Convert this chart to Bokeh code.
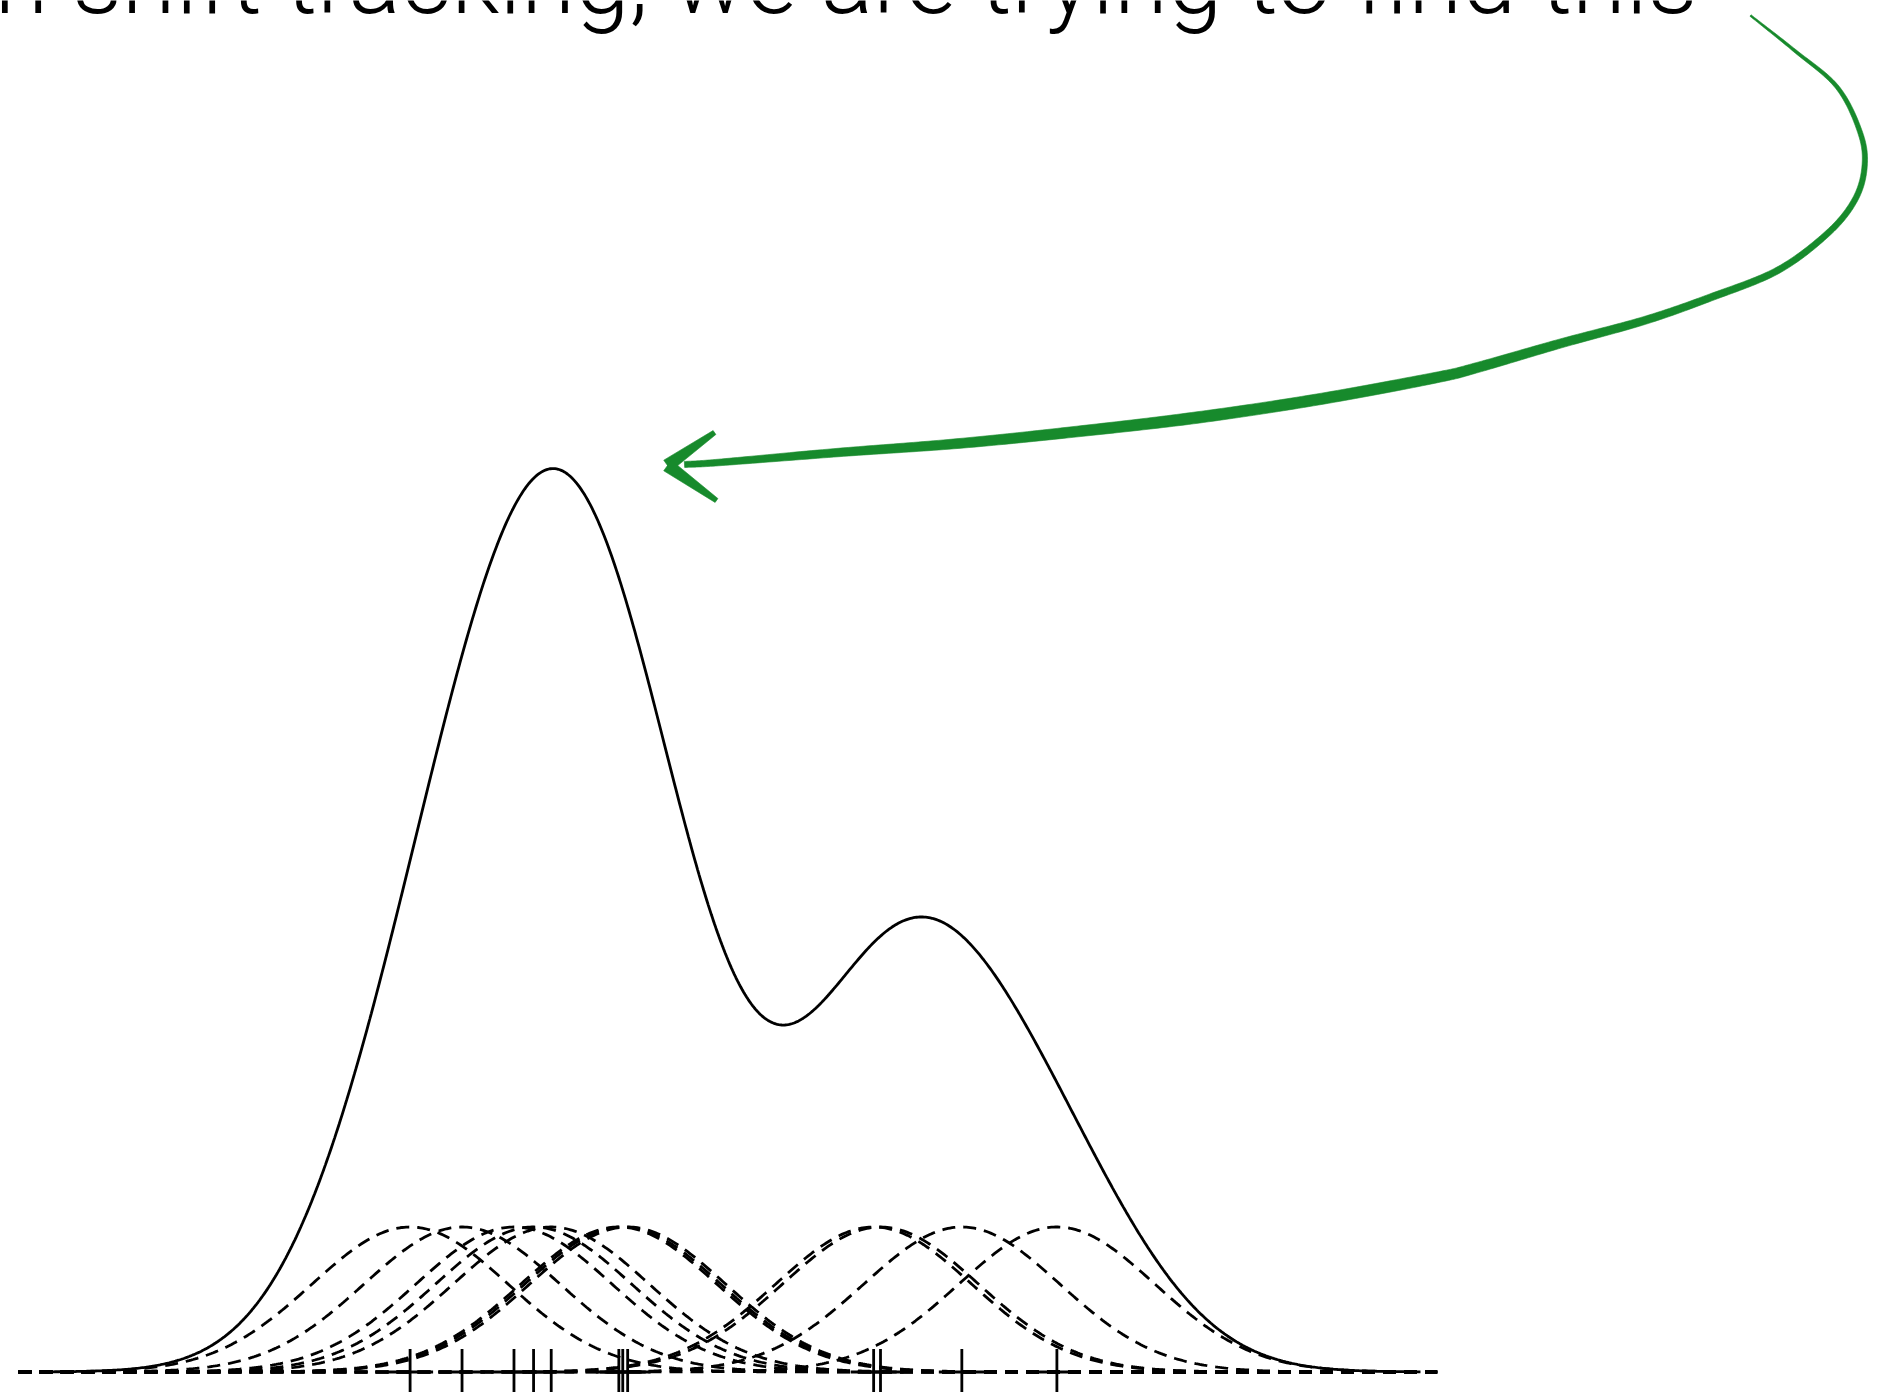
import numpy as np
from bokeh.plotting import figure
from bokeh.models import Range1d
from bokeh.core.properties import value
from bokeh.embed import file_html
from bokeh.resources import INLINE

observations = [-3.30, -2.77, -2.24, -2.04, -1.86, -1.17, -1.13, -1.08, 1.43, 1.50, 2.33, 3.30]
bandwidth = 1.0
caption = "In mean shift tracking, we are trying to find this"

# ---- annotation arrow centre line (page pixels) ----
arrow_x = [1750, 1794, 1837, 1860, 1864, 1854, 1827, 1777, 1710, 1644, 1560, 1477,
           1436, 1317, 1197, 1077, 958, 838, 718, 684]
arrow_y = [15, 50, 87, 133, 167, 200, 233, 270, 297, 320, 343, 367,
           377, 399, 417, 431, 443, 452, 462, 464]
arrow_tip = (667, 465)
arrow_barb_ends = [(714, 432), (716, 500)]
GREEN = "#178a2c"

W, H = 1877, 1392
n = len(observations)
obs = np.array(observations)
unit = 1.0 / (n * bandwidth * np.sqrt(2 * np.pi))   # height of one kernel


def kernel(x, xi):
    return np.exp(-0.5 * ((x - xi) / bandwidth) ** 2) * unit


p = figure(width=W, height=H, output_backend="svg", toolbar_location=None,
           x_range=Range1d(-733 / 98, (W - 733) / 98),
           y_range=Range1d(-(H - 1371.5) / 145 * unit, 1371.5 / 145 * unit),
           x_axis_location=None, y_axis_location=None,
           min_border=0, outline_line_color=None,
           background_fill_color="white", border_fill_color="white")
p.grid.visible = False
p.extra_x_ranges = {"px": Range1d(0, W)}
p.extra_y_ranges = {"px": Range1d(H, 0)}

# individual kernels (dashed)
kx = np.linspace(-7.296, 7.18, 700)
for xi in obs:
    p.line(kx, kernel(kx, xi), line_color="black", line_width=2.8,
           line_dash="13 8")

# kernel density estimate (solid)
sx = np.linspace(-7.04, 7.01, 900)
dens = sum(kernel(sx, xi) for xi in obs)
p.line(sx, dens, line_color="black", line_width=2.8)

# observations
p.scatter(obs, np.zeros(n), marker="cross", size=46, line_color="black",
          line_width=2.8)

# caption (top line, partly cut off)
p.text(x=[1697], y=[-21], text=[caption], x_range_name="px", y_range_name="px",
       text_font=value("Roboto Light"), text_font_size="98px",
       text_align="right", text_baseline="alphabetic", text_color="black")


# ---- hand drawn arrow ----
def catmull(xs, ys, steps=24):
    P = np.column_stack([xs, ys]).astype(float)
    P = np.vstack([P[0] * 2 - P[1], P, P[-1] * 2 - P[-2]])
    out = []
    for i in range(1, len(P) - 2):
        p0, p1, p2, p3 = P[i - 1], P[i], P[i + 1], P[i + 2]
        for t in np.linspace(0, 1, steps, endpoint=False):
            t2, t3 = t * t, t * t * t
            out.append(0.5 * ((2 * p1) + (-p0 + p2) * t +
                              (2 * p0 - 5 * p1 + 4 * p2 - p3) * t2 +
                              (-p0 + 3 * p1 - 3 * p2 + p3) * t3))
    out.append(P[-2])
    return np.array(out)


C = catmull(arrow_x, arrow_y)
seg = np.diff(C, axis=0)
s = np.concatenate([[0], np.cumsum(np.hypot(seg[:, 0], seg[:, 1]))])
s /= s[-1]
tang = np.gradient(C, axis=0)
tang /= np.hypot(tang[:, 0], tang[:, 1])[:, None]
nrm = np.column_stack([-tang[:, 1], tang[:, 0]])
wprof_s = [0.0, 0.06, 0.15, 0.3, 0.5, 0.65, 0.8, 0.92, 1.0]
wprof_w = [1.8, 3.6, 5.6, 7.4, 11.0, 11.5, 10.0, 8.0, 6.0]
half = np.interp(s, wprof_s, wprof_w) / 2
L = C + nrm * half[:, None]
R = C - nrm * half[:, None]
poly = np.vstack([L, R[::-1]])
p.patch(poly[:, 0], poly[:, 1], x_range_name="px", y_range_name="px",
        fill_color=GREEN, line_color=GREEN, line_width=0.6)

tip = np.array(arrow_tip, dtype=float)
for end in arrow_barb_ends:
    end = np.array(end, dtype=float)
    d = end - tip
    d /= np.hypot(*d)
    nn = np.array([-d[1], d[0]])
    q = np.array([tip + nn * 6.5, end + nn * 2.4, end - nn * 2.4, tip - nn * 6.5])
    p.patch(q[:, 0], q[:, 1], x_range_name="px", y_range_name="px",
            fill_color=GREEN, line_color=GREEN, line_width=0.6)

open("out.html", "w").write(file_html(p, INLINE))
